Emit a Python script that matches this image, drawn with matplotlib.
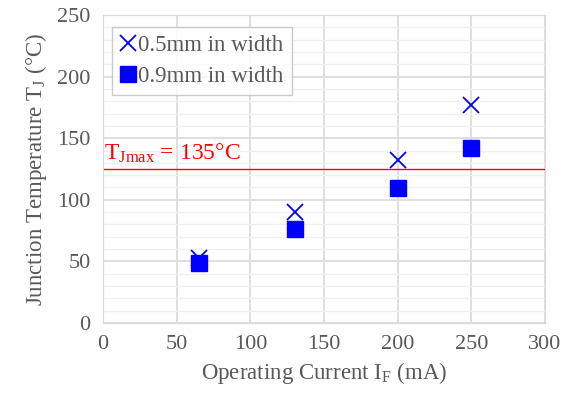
import matplotlib.pyplot as plt
from matplotlib.ticker import MultipleLocator

plt.rcParams['font.family'] = 'Liberation Serif'
plt.rcParams['mathtext.fontset'] = 'custom'
plt.rcParams['mathtext.rm'] = 'Liberation Serif'
plt.rcParams['mathtext.it'] = 'Liberation Serif'

# data
current = [65, 130, 200, 250]
temp_05mm = [53, 90, 132, 177]
temp_09mm = [48.5, 76, 109.5, 142]
tj_max = 125

grey = '#595959'

fig = plt.figure(figsize=(5.74, 3.97), dpi=100)
ax = fig.add_axes([0.1794, 0.1864, 0.7701, 0.7758])

ax.plot(current, temp_05mm, 'x', color='#0000ff', ms=12, mew=1.3, label='0.5mm in width', zorder=3)
ax.plot(current, temp_09mm, 's', color='#0000ff', ms=12, label='0.9mm in width', zorder=3)
ax.axhline(tj_max, color='#ff0000', lw=1.0, zorder=2)
ax.text(1, tj_max + 3, r'T$_{\mathrm{Jmax}}$ = 135°C', color='#ff0000', fontsize=17, va='bottom')

ax.set_xlim(0, 300)
ax.set_ylim(0, 250)
ax.xaxis.set_major_locator(MultipleLocator(50))
ax.yaxis.set_major_locator(MultipleLocator(50))
ax.yaxis.set_minor_locator(MultipleLocator(10))
ax.grid(which='major', color='#d9d9d9', lw=1.2, zorder=0)
ax.grid(which='minor', axis='y', color='#f0f0f0', lw=1.0, zorder=0)
ax.set_axisbelow(True)
for s in ax.spines.values():
    s.set_color('#d9d9d9')
ax.tick_params(which='both', length=0, labelsize=16, labelcolor=grey, pad=9)

ax.set_xlabel(r'Operating Current I$_\mathrm{F}$ (mA)', fontsize=16.5, color=grey, labelpad=4)
ax.set_ylabel(r'Junction Temperature T$_\mathrm{J}$ (°C)', fontsize=16.5, color=grey, labelpad=6)

leg = ax.legend(loc='upper left', bbox_to_anchor=(0.02, 0.96), fontsize=16.5, frameon=True,
                fancybox=False, edgecolor='#bfbfbf', handlelength=0.7, handletextpad=0.1,
                borderpad=0.35, labelspacing=0.4, borderaxespad=0.0)
leg.get_frame().set_linewidth(1.0)
for t in leg.get_texts():
    t.set_color(grey)

fig.savefig('out.png', dpi=100)
